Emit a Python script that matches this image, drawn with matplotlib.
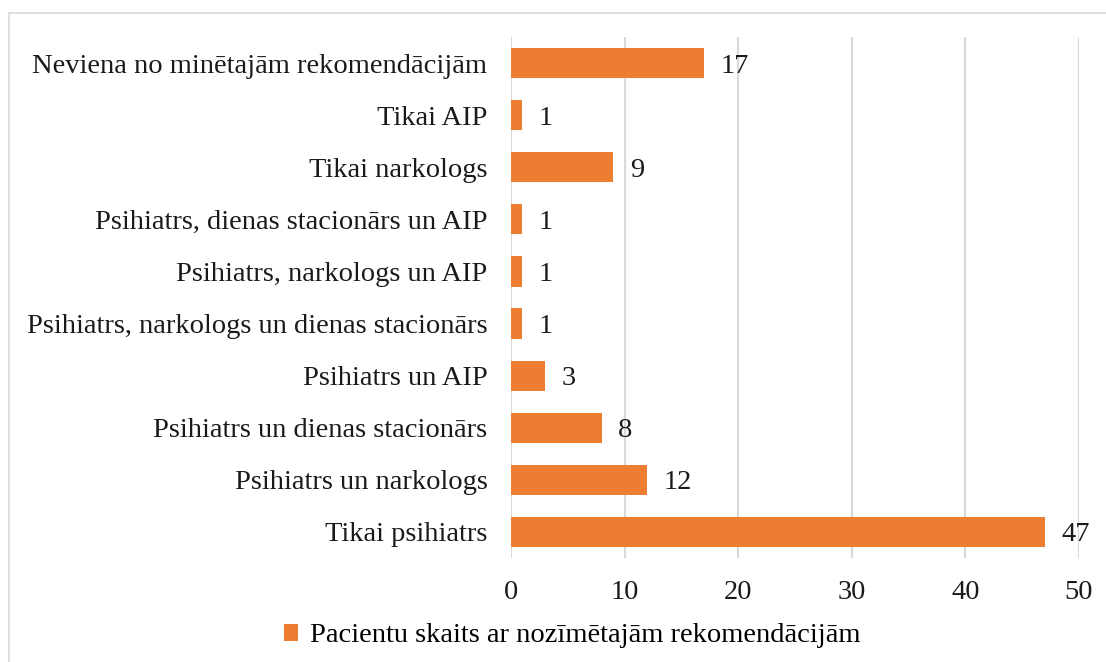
import matplotlib.pyplot as plt
from matplotlib.patches import Rectangle

# Categories listed top to bottom as in the chart
categories = [
    'Neviena no minētajām rekomendācijām',
    'Tikai AIP',
    'Tikai narkologs',
    'Psihiatrs, dienas stacionārs un AIP',
    'Psihiatrs, narkologs un AIP',
    'Psihiatrs, narkologs un dienas stacionārs',
    'Psihiatrs un AIP',
    'Psihiatrs un dienas stacionārs',
    'Psihiatrs un narkologs',
    'Tikai psihiatrs',
]
values = [17, 1, 9, 1, 1, 1, 3, 8, 12, 47]
series_name = 'Pacientu skaits ar nozīmētajām rekomendācijām'
x_ticks = [0, 10, 20, 30, 40, 50]

plt.rcParams['font.family'] = ['Liberation Serif', 'DejaVu Serif']
FS = 20.5

fig = plt.figure(figsize=(11.06, 6.62), dpi=100)
ax = fig.add_axes([511 / 1106, 1 - 558 / 662, (1079 - 511) / 1106, (558 - 37) / 662])

# outer chart border
fig.patches.append(Rectangle((9 / 1106, -0.01), 1.02, 1 - 13 / 662 + 0.01,
                             transform=fig.transFigure, fill=False,
                             edgecolor='#D9D9D9', linewidth=1.2))

pos = list(range(len(categories)))[::-1]
bars = ax.barh(pos, values, height=0.58, color='#ED7D31', label=series_name, zorder=3)

for p, v in zip(pos, values):
    ax.text(v + 1.45, p, str(v), va='center_baseline', ha='left', fontsize=FS, color='#1a1a1a')

ax.set_xlim(0, 50)
ax.set_ylim(-0.5, len(categories) - 0.5)
ax.set_xticks(x_ticks)
ax.set_yticks(pos)
ax.set_yticklabels(categories, va='center_baseline')
ax.tick_params(axis='both', length=0, labelsize=FS, labelcolor='#1a1a1a')
ax.tick_params(axis='y', pad=17)
ax.tick_params(axis='x', pad=16)
ax.grid(axis='x', color='#D9D9D9', linewidth=1.5, zorder=0)
for s in ax.spines.values():
    s.set_visible(False)

fig.legend(handles=[bars], labels=[series_name], loc='center',
           bbox_to_anchor=(0.5 + 19 / 1106, 1 - 636 / 662), frameon=False, fontsize=FS,
           handlelength=0.5, handleheight=0.5, handletextpad=0.4)

fig.savefig('out.png', dpi=100)
